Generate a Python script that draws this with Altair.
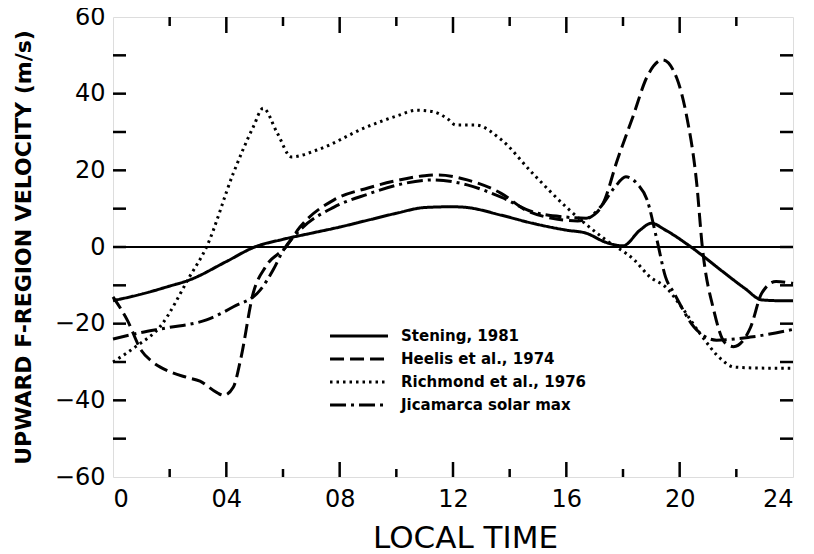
import altair as alt
import pandas as pd

# ---------------- data ----------------
series_names = ["Stening, 1981", "Heelis et al., 1974", "Richmond et al., 1976", "Jicamarca solar max"]

stening_x = [0, 1, 2, 2.7, 4, 5, 6, 7, 8, 9, 10, 11, 12, 12.5, 13.7, 14.8, 16, 16.7, 17.4, 18.0, 18.6, 19.0, 19.5, 20.4, 21.5, 22.3, 22.9, 23.5, 24]
stening_y = [-14, -12.3, -10.2, -8.6, -3.8, 0, 2, 3.6, 5.2, 7, 8.8, 10.3, 10.5, 10.3, 8.3, 6.2, 4.4, 3.6, 1.2, 0.3, 4.4, 6.2, 4.4, 0, -6.3, -10.8, -13.8, -14, -14]

heelis_x = [0, 0.5, 1.0, 1.4, 2.0, 2.6, 3.07, 3.67, 3.9, 4.25, 4.5, 4.95, 5.4, 6.1, 6.6, 7.8, 9, 10, 11, 11.5, 12.5, 13.7, 14.6, 15.5, 16.4, 17.0, 17.3, 17.8, 18.35, 18.85, 19.4, 19.9, 20.25, 20.6, 20.8, 21.2, 21.6, 21.9, 22.5, 22.9, 23.4, 24]
heelis_y = [-13, -19, -27, -30, -32.5, -34, -35, -38, -38.7, -36.5, -29.5, -12, -5, 0, 5.2, 12.3, 15.4, 17.3, 18.6, 18.8, 17.5, 14, 9.5, 7.5, 6.8, 8.5, 11.4, 22.7, 34, 44.4, 48.8, 44, 34, 16.7, 0, -16.4, -25, -26, -21, -12, -9, -9.5]

richmond_x = [0, 0.8, 1.66, 2.7, 3.3, 4.25, 4.95, 5.3, 5.8, 6.3, 7.2, 8.95, 10.1, 10.7, 11.3, 11.8, 12.1, 12.8, 13.7, 14.8, 16, 17.4, 18.4, 18.95, 19.5, 20.1, 20.7, 21.5, 21.9, 23, 24]
richmond_y = [-30, -26, -20.8, -7.8, 0, 19.3, 31.3, 36.2, 29.7, 23.5, 25.3, 31.3, 34.4, 35.7, 35.3, 33.5, 31.8, 31.8, 28, 19.3, 10.4, 1.8, -3.4, -7.8, -10.4, -16, -22.4, -29.5, -31.3, -31.6, -31.6]

jica_x = [0, 1, 1.9, 3.3, 4.25, 5.2, 5.65, 6.0, 6.6, 7.8, 9, 10.1, 11.3, 12.5, 13.7, 14.8, 16, 16.7, 17.2, 17.7, 18.1, 18.5, 18.85, 19.2, 19.5, 19.8, 20.5, 21.3, 22.5, 24]
jica_y = [-24, -22.3, -21.1, -19, -15.6, -11.2, -6, -1, 4.4, 10.4, 13.8, 16.3, 17.5, 16.2, 13, 9.2, 7.8, 7.5, 10.4, 15.5, 18.3, 16.5, 12.3, 1.8, -7.8, -12, -20.8, -24.3, -23.5, -21.5]

x_ticks = [0, 4, 8, 12, 16, 20, 24]
x_tick_labels = ["0", "04", "08", "12", "16", "20", "24"]
x_minor = [2, 6, 10, 14, 18, 22]
x_major_inner = [4, 8, 12, 16, 20]
y_ticks = [-60, -40, -20, 0, 20, 40, 60]
y_minor = [-50, -40, -30, -20, -10, 0, 10, 20, 30, 40, 50]
zero_line = [0]

dash_styles = [[1, 0], [14, 6], [2.5, 4], [16, 5, 3, 5]]
stroke_widths = [3, 3, 2.5, 3]

# ---------------- build tables ----------------
rows = []
for name, xs, ys in zip(series_names,
                        [stening_x, heelis_x, richmond_x, jica_x],
                        [stening_y, heelis_y, richmond_y, jica_y]):
    for i, (a, b) in enumerate(zip(xs, ys)):
        rows.append({"series": name, "t": a, "v": b, "o": i})
df = pd.DataFrame(rows)

W, H = 680, 460
xscale = alt.Scale(domain=[0, 24], nice=False, zero=False)
yscale = alt.Scale(domain=[-60, 60], nice=False, zero=False)

label_expr = ""
for v, lab in zip(x_ticks, x_tick_labels):
    label_expr += f"datum.value == {v} ? '{lab}' : "
label_expr += "''"

legend_kw = dict(
    title=None, orient="none", legendX=237, legendY=310,
    symbolType="M-4,0H4", symbolSize=210, symbolStrokeColor="black",
    symbolFillColor="transparent",
    labelFont="DejaVu Sans", labelFontWeight="bold", labelFontSize=15, labelColor="black",
    labelOffset=33, labelLimit=400, rowPadding=6, padding=0,
)

lines = alt.Chart(df).mark_line(color="black", interpolate="monotone", strokeCap="butt").encode(
    x=alt.X("t:Q", scale=xscale, axis=alt.Axis(
        values=x_ticks, labelExpr=label_expr, ticks=False, domain=False, grid=False,
        labelFontSize=24, labelFont="DejaVu Sans", labelColor="black", labelPadding=10,
        title="LOCAL TIME", titleFontSize=31, titleFont="DejaVu Sans", titleFontWeight="normal",
        titleColor="black", titleX=352, titleY=70, titleBaseline="alphabetic", titleAlign="center")),
    y=alt.Y("v:Q", scale=yscale, axis=alt.Axis(
        values=y_ticks, ticks=False, domain=False, grid=False,
        labelFontSize=24, labelFont="DejaVu Sans", labelColor="black", labelPadding=8,
        title="UPWARD F-REGION VELOCITY (m/s)", titleFontSize=22, titleFont="DejaVu Sans",
        titleFontWeight="bold", titleColor="black", titleX=-90, titleY=230, titleAngle=270,
        titleAlign="center", titleBaseline="middle")),
    strokeDash=alt.StrokeDash("series:N", scale=alt.Scale(domain=series_names, range=dash_styles),
                              sort=series_names, legend=alt.Legend(**legend_kw)),
    strokeWidth=alt.StrokeWidth("series:N", scale=alt.Scale(domain=series_names, range=stroke_widths),
                                sort=series_names, legend=alt.Legend(**legend_kw)),
    detail="series:N",
    order="o:Q",
)

zero_df = pd.DataFrame({"z": zero_line})
zero = alt.Chart(zero_df).mark_rule(color="black", strokeWidth=2).encode(
    y=alt.Y("z:Q", scale=yscale), x=alt.value(0), x2=alt.value(W))

ymin_df = pd.DataFrame({"y": y_minor})
yt_left = alt.Chart(ymin_df).mark_rule(color="black", strokeWidth=2.5).encode(
    y=alt.Y("y:Q", scale=yscale), x=alt.value(0), x2=alt.value(13))
yt_right = alt.Chart(ymin_df).mark_rule(color="black", strokeWidth=2.5).encode(
    y=alt.Y("y:Q", scale=yscale), x=alt.value(W - 13), x2=alt.value(W))

xmaj_df = pd.DataFrame({"x": x_major_inner})
xmin_df = pd.DataFrame({"x": x_minor})
xt_top_major = alt.Chart(xmaj_df).mark_rule(color="black", strokeWidth=2.5).encode(
    x=alt.X("x:Q", scale=xscale), y=alt.value(0), y2=alt.value(16))
xt_bot_major = alt.Chart(xmaj_df).mark_rule(color="black", strokeWidth=2.5).encode(
    x=alt.X("x:Q", scale=xscale), y=alt.value(H - 15), y2=alt.value(H))
xt_top_minor = alt.Chart(xmin_df).mark_rule(color="black", strokeWidth=2.5).encode(
    x=alt.X("x:Q", scale=xscale), y=alt.value(0), y2=alt.value(9))
xt_bot_minor = alt.Chart(xmin_df).mark_rule(color="black", strokeWidth=2.5).encode(
    x=alt.X("x:Q", scale=xscale), y=alt.value(H - 8), y2=alt.value(H))

chart = alt.layer(
    zero, yt_left, yt_right, xt_top_major, xt_bot_major, xt_top_minor, xt_bot_minor, lines
).properties(
    width=W, height=H,
    autosize=alt.AutoSizeParams(type="none"),
    padding={"left": 105, "top": 9, "right": 13, "bottom": 78},
).configure_view(
    stroke="black", strokeWidth=3
).configure(background="white")

chart.save("out.html", embed_options={"renderer": "svg", "actions": False})
